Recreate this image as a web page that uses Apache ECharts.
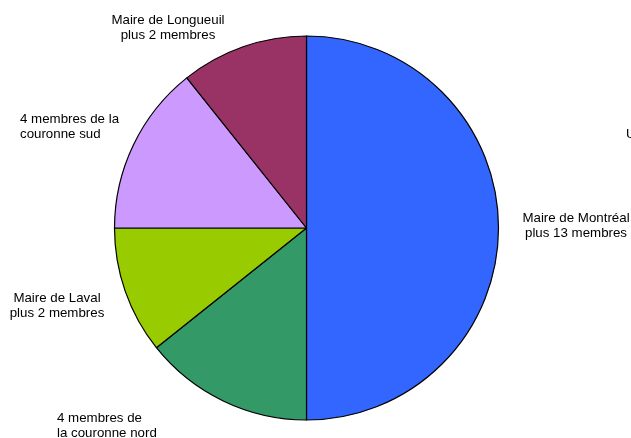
<!DOCTYPE html>
<html>
<head>
<meta charset="utf-8">
<script src="https://cdn.jsdelivr.net/npm/echarts@6/dist/echarts.min.js"></script>
<style>
  html, body { margin: 0; padding: 0; background: #fff; }
  #chart { width: 631px; height: 438px; }
</style>
</head>
<body>
<div id="chart"></div>
<script>
// Sièges au conseil, par groupe (sens horaire depuis midi)
const groupes = [
  'Maire de Montréal\nplus 13 membres',
  '4 membres de\nla couronne nord',
  'Maire de Laval\nplus 2 membres',
  '4 membres de la\ncouronne sud',
  'Maire de Longueuil\nplus 2 membres'
];
const sieges = [14, 4, 3, 4, 3];
const couleurs = ['#3366FF', '#339966', '#99CC00', '#CC99FF', '#993366'];

// Placement des étiquettes autour du disque
const placement = [
  { x: 576, y: 226, align: 'center' },
  { x: 57,  y: 426, align: 'left' },
  { x: 57,  y: 306, align: 'center' },
  { x: 20,  y: 127, align: 'left' },
  { x: 168, y: 28,  align: 'center' }
];

const chart = echarts.init(document.getElementById('chart'), null, { renderer: 'canvas' });

chart.setOption({
  backgroundColor: '#ffffff',
  animation: false,
  series: [{
    type: 'pie',
    center: [306.5, 228],
    radius: 192,
    startAngle: 90,
    clockwise: true,
    silent: true,
    itemStyle: { borderColor: '#000', borderWidth: 1.2 },
    label: {
      show: true,
      position: 'outside',
      color: '#000',
      fontFamily: 'Liberation Sans, Arial, sans-serif',
      fontSize: 13.3,
      lineHeight: 15.5,
      overflow: 'none',
      width: 200
    },
    labelLine: { show: false },
    labelLayout: function (p) {
      const s = placement[p.dataIndex];
      return { x: s.x, y: s.y, align: s.align, verticalAlign: 'middle', hideOverlap: false };
    },
    data: groupes.map((g, i) => ({
      name: g,
      value: sieges[i],
      itemStyle: { color: couleurs[i] },
      label: { align: placement[i].align }
    }))
  }],
  graphic: [{
    type: 'text',
    left: 626,
    top: 128,
    style: { text: 'U', fontSize: 13.3, fontFamily: 'Liberation Sans, Arial, sans-serif', fill: '#000' }
  }]
});
</script>
</body>
</html>
